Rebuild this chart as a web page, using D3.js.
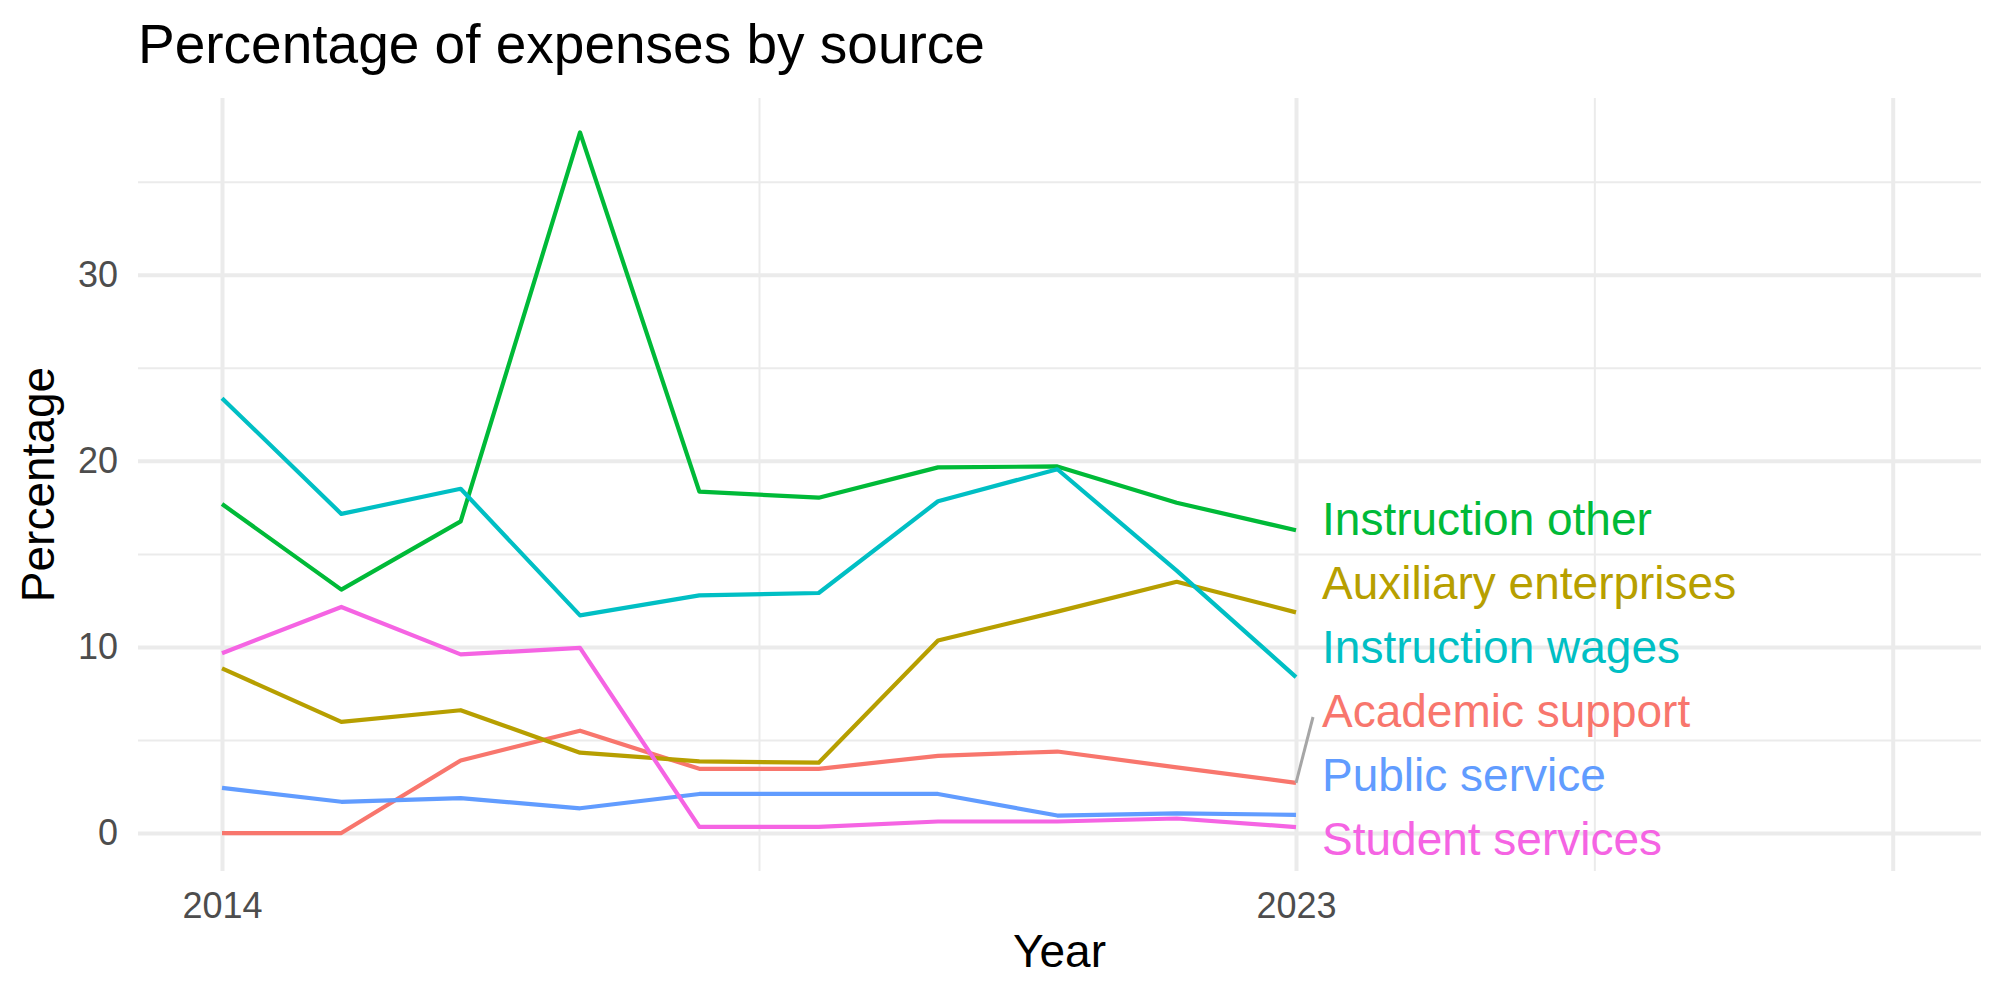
<!DOCTYPE html>
<html>
<head>
<meta charset="utf-8">
<title>Percentage of expenses by source</title>
<script src="https://cdn.jsdelivr.net/npm/d3@7"></script>
<style>
  html, body { margin: 0; padding: 0; background: #fff; }
  svg { display: block; font-family: "Liberation Sans", Arial, Helvetica, sans-serif; }
</style>
</head>
<body>
<div id="chart"></div>
<script>
// values (percent of expenses)
const years = [2014, 2015, 2016, 2017, 2018, 2019, 2020, 2021, 2022, 2023];
const academicSupport      = [0, 0, 3.9, 5.5, 3.45, 3.45, 4.15, 4.38, 3.53, 2.7];
const auxiliaryEnterprises = [8.85, 5.97, 6.6, 4.32, 3.85, 3.78, 10.35, 11.9, 13.5, 11.86];
const instructionOther     = [17.68, 13.08, 16.75, 37.65, 18.35, 18.02, 19.65, 19.7, 17.75, 16.27];
const instructionWages     = [23.37, 17.15, 18.5, 11.7, 12.77, 12.9, 17.83, 19.55, 14.1, 8.38];
const publicService        = [2.43, 1.68, 1.88, 1.33, 2.1, 2.1, 2.1, 0.94, 1.06, 0.98];
const studentServices      = [9.66, 12.15, 9.6, 9.95, 0.33, 0.33, 0.62, 0.62, 0.78, 0.32];

const sources = ["Academic support", "Auxiliary enterprises", "Instruction other",
                 "Instruction wages", "Public service", "Student services"];
const seriesValues = [academicSupport, auxiliaryEnterprises, instructionOther,
                      instructionWages, publicService, studentServices];
const colors = ["#F8766D", "#B79F00", "#00BA38", "#00BFC4", "#619CFF", "#F564E3"];

const xMajor = [2014, 2023, 2028];
const xMinor = [2018.5, 2025.5];
const xTickLabels = [2014, 2023];
const yMajor = [0, 10, 20, 30];
const yMinor = [5, 15, 25, 35];

const WIDTH = 2000;
const HEIGHT = 1000;
const PANEL = { left: 138, right: 1981, top: 98, bottom: 871 };
const GRID = "#EBEBEB";

const svg = d3.select("#chart")
    .append("svg")
    .attr("width", WIDTH)
    .attr("height", HEIGHT);

// x domain is padded out to the right to leave room for the labels (like the original)
const xScale = d3.scaleLinear()
    .domain([2013.296, 2028.74])
    .range([PANEL.left, PANEL.right]);

const yScale = d3.scaleLinear()
    .domain([-2.04, 39.5])
    .range([PANEL.bottom, PANEL.top]);

const panelH = PANEL.bottom - PANEL.top;
const panelW = PANEL.right - PANEL.left;

function gridX(values, width){
    svg.append("g")
        .attr("transform", `translate(0,${PANEL.bottom})`)
        .call(d3.axisBottom(xScale).tickValues(values).tickSize(-panelH).tickFormat(""))
        .call(g => g.select(".domain").remove())
        .call(g => g.selectAll("line").attr("stroke", GRID).attr("stroke-width", width));
}

function gridY(values, width){
    svg.append("g")
        .attr("transform", `translate(${PANEL.left},0)`)
        .call(d3.axisLeft(yScale).tickValues(values).tickSize(-panelW).tickFormat(""))
        .call(g => g.select(".domain").remove())
        .call(g => g.selectAll("line").attr("stroke", GRID).attr("stroke-width", width));
}

gridX(xMinor, 2);
gridY(yMinor, 2);
gridX(xMajor, 4);
gridY(yMajor, 4);

// tick labels
svg.append("g")
    .attr("transform", `translate(0,${PANEL.bottom})`)
    .call(d3.axisBottom(xScale).tickValues(xTickLabels).tickSize(0).tickPadding(21).tickFormat(d3.format("d")))
    .call(g => g.select(".domain").remove())
    .call(g => g.selectAll("text")
        .attr("fill", "#4D4D4D")
        .style("font-size", "36px")
        .style("font-family", "Liberation Sans, Arial, sans-serif"));

svg.append("g")
    .attr("transform", `translate(${PANEL.left},0)`)
    .call(d3.axisLeft(yScale).tickValues(yMajor).tickSize(0).tickPadding(20))
    .call(g => g.select(".domain").remove())
    .call(g => g.selectAll("text")
        .attr("fill", "#4D4D4D")
        .style("font-size", "36px")
        .style("font-family", "Liberation Sans, Arial, sans-serif"));

// lines
const lineGenerator = d3.line()
    .x(d => xScale(d.year))
    .y(d => yScale(d.value));

const series = sources.map((name, i) => ({
    name,
    color: colors[i],
    points: years.map((year, j) => ({ year, value: seriesValues[i][j] }))
}));

svg.append("g")
    .selectAll("path")
    .data(series)
    .join("path")
    .attr("d", d => lineGenerator(d.points))
    .attr("fill", "none")
    .attr("stroke", d => d.color)
    .attr("stroke-width", 4.2)
    .attr("stroke-linejoin", "round");

// end labels, pushed apart roughly the way ggrepel does it:
// keep a minimum gap, stay as close as possible to the line ends, stay inside the panel
const LABEL_GAP = 64;
const LABEL_FONT = 46;
const lastYear = years[years.length - 1];

function layoutLabels(targets, gap, maxY){
    const n = targets.length;
    // isotonic regression on shifted targets (pool adjacent violators)
    const blocks = [];
    targets.forEach((t, k) => {
        blocks.push({ sum: t - k * gap, count: 1 });
        while (blocks.length > 1){
            const b = blocks[blocks.length - 1], a = blocks[blocks.length - 2];
            if (a.sum / a.count <= b.sum / b.count) break;
            a.sum += b.sum; a.count += b.count;
            blocks.pop();
        }
    });
    const pos = [];
    blocks.forEach(b => { for (let c = 0; c < b.count; c++) pos.push(b.sum / b.count); });
    return pos.map((q, k) => Math.min(q + k * gap, maxY - (n - 1 - k) * gap));
}

const ends = series
    .map(s => ({ s, py: yScale(s.points[s.points.length - 1].value) }))
    .sort((a, b) => a.py - b.py);
const centers = layoutLabels(ends.map(e => e.py), LABEL_GAP, PANEL.bottom - 33);
const labelX = xScale(lastYear) + 26;
const endX = xScale(lastYear);

ends.forEach((e, k) => {
    e.cy = centers[k];
    // segment only when the label drifted well away from its point
    const boxBottom = e.cy + 35, boxTop = e.cy - 35;
    const dy = e.py > boxBottom ? e.py - boxBottom : (e.py < boxTop ? boxTop - e.py : 0);
    const dx = (labelX - 14) - endX;
    e.segment = Math.hypot(dx, dy) > 27;
});

svg.append("g")
    .selectAll("line")
    .data(ends.filter(e => e.segment))
    .join("line")
    .attr("x1", endX)
    .attr("y1", d => d.py)
    .attr("x2", labelX - 9)
    .attr("y2", d => d.cy + 7)
    .attr("stroke", "#A6A6A6")
    .attr("stroke-width", 3);

svg.append("g")
    .selectAll("text")
    .data(ends)
    .join("text")
    .attr("x", labelX)
    .attr("y", d => d.cy)
    .attr("dy", "0.36em")
    .attr("fill", d => d.s.color)
    .style("font-size", LABEL_FONT + "px")
    .text(d => d.s.name);

// titles
svg.append("text")
    .attr("x", PANEL.left)
    .attr("y", 63)
    .style("font-size", "55px")
    .attr("fill", "#000")
    .text("Percentage of expenses by source");

svg.append("text")
    .attr("x", (PANEL.left + PANEL.right) / 2)
    .attr("y", 967)
    .attr("text-anchor", "middle")
    .style("font-size", "46px")
    .attr("fill", "#000")
    .text("Year");

svg.append("text")
    .attr("transform", `translate(54,${(PANEL.top + PANEL.bottom) / 2}) rotate(-90)`)
    .attr("text-anchor", "middle")
    .style("font-size", "46px")
    .attr("fill", "#000")
    .text("Percentage");
</script>
</body>
</html>
